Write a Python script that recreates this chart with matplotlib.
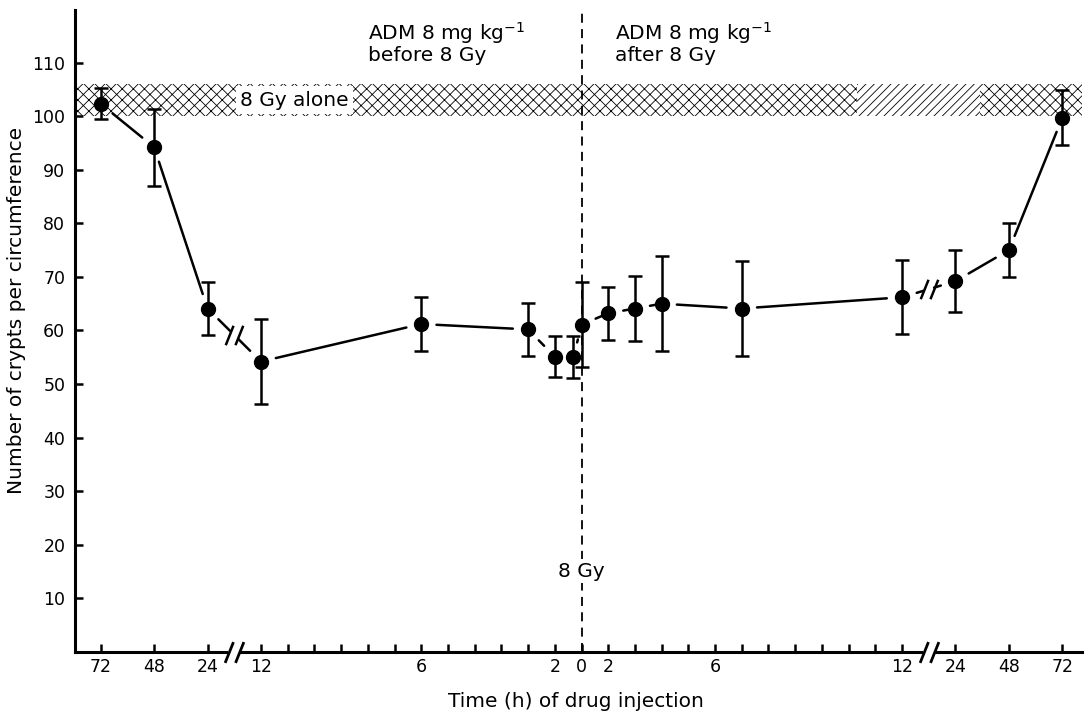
"""
Crypt survival after 8 Gy with ADM given before or after irradiation.
"""

import matplotlib.pyplot as plt
from matplotlib.path import Path

plt.rcParams["font.family"] = ["DejaVu Sans"]
plt.rcParams["hatch.linewidth"] = 0.6

# positions on the printed (break-compressed) time axis
x_pos = [-18, -16, -14, -12, -6, -2, -1, -0.3, 0, 1, 2, 3, 6, 12, 14, 16, 18]
crypts = [102.3, 94.2, 64.1, 54.2, 61.2, 60.2, 55.1, 55.0, 61.1,
          63.2, 64.1, 65.0, 64.1, 66.2, 69.2, 75.0, 99.7]
crypts_err = [2.9, 7.2, 5.0, 7.9, 5.0, 5.0, 3.8, 3.9, 7.9,
              5.0, 6.0, 8.9, 8.9, 6.9, 5.8, 5.0, 5.1]

tick_pos = [-18, -16, -14] + list(range(-12, 13)) + [14, 16, 18]
tick_text = {-18: "72", -16: "48", -14: "24", -12: "12", -6: "6", -1: "2",
             0: "0", 1: "2", 5: "6", 12: "12", 14: "24", 16: "48", 18: "72"}
axis_breaks = [-13, 13]

y_ticks = [10, 20, 30, 40, 50, 60, 70, 80, 90, 100, 110]
alone_low, alone_high = 100, 106

XLIM = (-18.96, 18.74)
YLIM = (0, 119.8)

# two slashes, used for the axis and line breaks
BREAK_MARK = Path(
    [(-0.9, -1), (-0.1, 1), (0.1, -1), (0.9, 1)],
    [Path.MOVETO, Path.LINETO, Path.MOVETO, Path.LINETO],
)

fig = plt.figure(figsize=(10.86, 7.15), dpi=100)
ax = fig.add_axes([0.0691, 0.0881, 0.9273, 0.8979])
ax.set_xlim(*XLIM)
ax.set_ylim(*YLIM)

# 8 Gy alone band (scan lost one hatch direction near the right end)
ax.fill_between([XLIM[0], 10.3], alone_low, alone_high, facecolor="none",
                edgecolor="black", hatch="xxx", linewidth=0, zorder=1)
ax.fill_between([10.3, 14.9], alone_low, alone_high, facecolor="none",
                edgecolor="black", hatch="////", linewidth=0, zorder=1)
ax.fill_between([14.9, XLIM[1]], alone_low, alone_high, facecolor="none",
                edgecolor="black", hatch="xxx", linewidth=0, zorder=1)
ax.text(-12.77, (alone_low + alone_high) / 2, "8 Gy alone", fontsize=14.5,
        ha="left", va="center", zorder=2,
        bbox=dict(facecolor="white", edgecolor="none", pad=3))

# time of irradiation
ax.axvline(0, color="black", linewidth=1.3, linestyle=(0, (5, 3.5)), zorder=1)
ax.text(0, 15.1, "8 Gy", fontsize=14.5, ha="center", va="center", zorder=3,
        bbox=dict(facecolor="white", edgecolor="none", pad=2))

# connecting line, stopped short of each point
line_style = dict(arrowstyle="-", color="black", lw=1.8)
gap = 11
for i in range(len(x_pos) - 1):
    x0, x1 = x_pos[i], x_pos[i + 1]
    y0, y1 = crypts[i], crypts[i + 1]
    cut = [b for b in axis_breaks if x0 < b < x1]
    if cut:
        xb = cut[0]
        yb = y0 + (y1 - y0) * (xb - x0) / (x1 - x0)
        ax.annotate("", xy=(xb, yb), xytext=(x0, y0),
                    arrowprops=dict(shrinkA=gap, shrinkB=4, **line_style))
        ax.annotate("", xy=(x1, y1), xytext=(xb, yb),
                    arrowprops=dict(shrinkA=4, shrinkB=gap, **line_style))
        ax.plot(xb, yb, marker=BREAK_MARK, markersize=14, color="black",
                markeredgewidth=1.8, zorder=4)
    else:
        ax.annotate("", xy=(x1, y1), xytext=(x0, y0),
                    arrowprops=dict(shrinkA=gap, shrinkB=gap, **line_style))

ax.errorbar(x_pos, crypts, yerr=crypts_err, fmt="none", ecolor="black",
            elinewidth=1.8, capsize=5, capthick=1.8, zorder=4)
ax.plot(x_pos, crypts, "o", color="black", markersize=10, zorder=5)

# axes
for side in ["top", "right"]:
    ax.spines[side].set_visible(False)
for side in ["left", "bottom"]:
    ax.spines[side].set_linewidth(2.2)

ax.set_xticks(tick_pos)
ax.set_xticklabels([tick_text.get(t, "") for t in tick_pos])
ax.set_yticks(y_ticks)
ax.tick_params(direction="in", length=6, width=1.8, labelsize=12.5)
ax.tick_params(axis="x", pad=4)
ax.tick_params(axis="y", pad=7)

for xb in axis_breaks:
    ax.plot([xb - 0.22, xb + 0.22], [0, 0], color="white", linewidth=4,
            clip_on=False, zorder=6, solid_capstyle="butt")
    ax.plot(xb, 0, marker=BREAK_MARK, markersize=15, color="black",
            markeredgewidth=2, clip_on=False, zorder=7)

ax.text(-8.0, 117.9, "ADM 8 mg kg$^{-1}$\nbefore 8 Gy", fontsize=14.5,
        ha="left", va="top", linespacing=1.0)
ax.text(1.27, 117.9, "ADM 8 mg kg$^{-1}$\nafter 8 Gy", fontsize=14.5,
        ha="left", va="top", linespacing=1.0)

ax.set_xlabel("Time (h) of drug injection", fontsize=14.5)
ax.xaxis.set_label_coords(0.4975, -0.062)
fig.text(17 / 1086, 1 - 310 / 715, "Number of crypts per circumference",
         fontsize=14.5, rotation=90, ha="center", va="center")

fig.savefig("out.png", dpi=100)
